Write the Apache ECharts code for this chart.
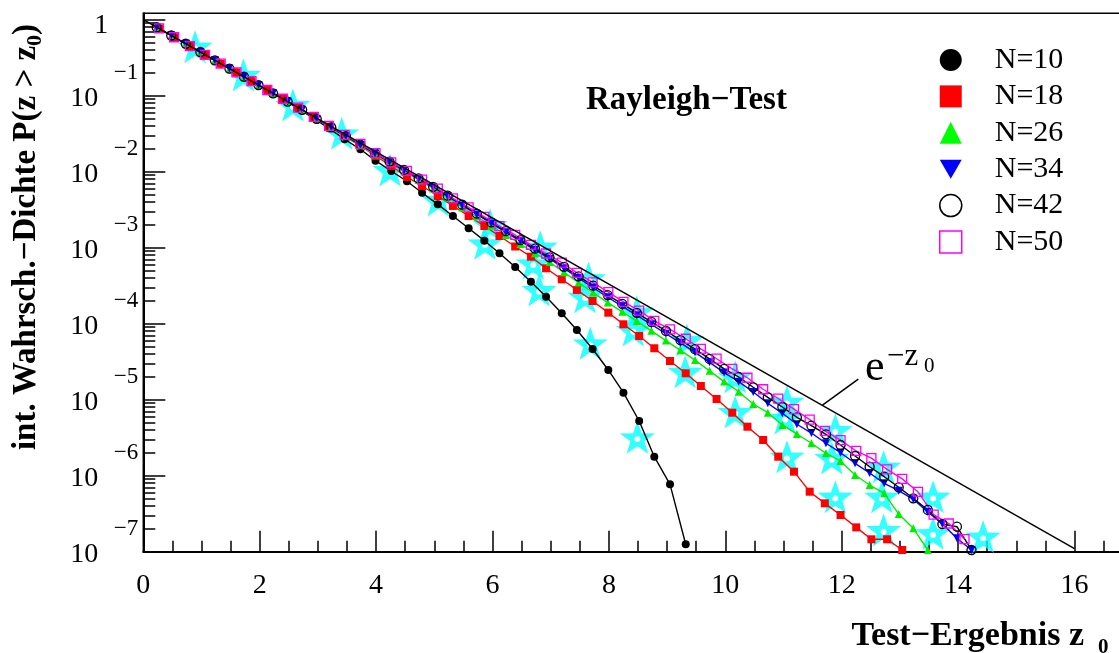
<!DOCTYPE html>
<html><head><meta charset="utf-8">
<script src="https://cdn.jsdelivr.net/npm/echarts@6/dist/echarts.min.js"></script>
<style>html,body{margin:0;padding:0;background:#fff}#c{width:1119px;height:653px}</style>
</head><body><div id="c"></div>
<script>
// ---- data ----
const zGridA = [0.27,0.53,0.80,1.06,1.33,1.60,1.86,2.13,2.40,2.66,2.93,3.19,3.46,3.73,3.99,4.26,4.53,4.79,5.06,5.32,5.59,5.86,6.12,6.39,6.66,6.92,7.19,7.45,7.72,7.99,8.25,8.52,8.78,9.05,9.32,9.58,9.85,10.12,10.38,10.65,10.91,11.18,11.45,11.71,11.98,12.25,12.51,12.78,13.04,13.31,13.58,13.84,14.11];
const zGridB = [0.23,0.48,0.73,0.98,1.23,1.48,1.73,1.98,2.23,2.48,2.73,2.98,3.23,3.48,3.73,3.98,4.23,4.48,4.73,4.98,5.23,5.48,5.73,5.98,6.23,6.48,6.73,6.98,7.23,7.48,7.73,7.98,8.23,8.48,8.73,8.98,9.23,9.48,9.73,9.98,10.23,10.48,10.73,10.98,11.23,11.48,11.73,11.98,12.23,12.48,12.73,12.98,13.23,13.48,13.73,13.98,14.23];

const pN10 = [0.766,0.587,0.450,0.345,0.264,0.2025,0.1552,0.1188,0.0897,0.0677,0.0504,0.0372,0.0267,0.0197,0.01395,0.01021,0.00748,0.00529,0.00372,0.002613,0.00180,0.001237,8.44e-4,5.57e-4,3.57e-4,2.265e-4,1.37e-4,8.26e-5,4.65e-5,2.46e-5,1.236e-5,5.24e-6,1.778e-6,7.70e-7,1.252e-7];
const pN18 = [0.766,0.587,0.450,0.345,0.264,0.2025,0.1552,0.1188,0.0911,0.0698,0.0525,0.0392,0.0294,0.02184,0.01609,0.01189,0.00852,0.00648,0.00479,0.00354,0.002613,0.00193,0.001425,0.001037,7.61e-4,5.36e-4,3.84e-4,2.78e-4,1.99e-4,1.396e-4,9.82e-5,6.89e-5,4.75e-5,3.23e-5,2.225e-5,1.515e-5,1.021e-5,6.74e-6,4.41e-6,2.95e-6,1.778e-6,1.129e-6,6.16e-7,4.33e-7,3.04e-7,2.09e-7,1.456e-7,1.456e-7,1.053e-7];
const pN26 = [0.795,0.619,0.482,0.3753,0.2921,0.2276,0.1773,0.138,0.1075,0.0837,0.065,0.0488,0.03747,0.02864,0.02191,0.0168,0.01297,0.01004,0.00777,0.00601,0.00453,0.00339,0.002564,0.001937,0.001468,0.001115,8.48e-4,6.46e-4,4.74e-4,3.47e-4,2.563e-4,1.895e-4,1.432e-4,1.082e-4,8.05e-5,5.99e-5,4.46e-5,3.32e-5,2.396e-5,1.73e-5,1.274e-5,8.78e-6,6.74e-6,4.65e-6,3.54e-6,2.67e-6,1.97e-6,1.561e-6,1.021e-6,7.54e-7,5.87e-7,3.13e-7,2.03e-7,1.053e-7];
const pN34 = [0.795,0.619,0.482,0.3753,0.2921,0.2276,0.1773,0.138,0.1075,0.0837,0.0652,0.04928,0.03802,0.02925,0.02252,0.01732,0.01341,0.01038,0.00806,0.00624,0.00474,0.00359,0.002732,0.002083,0.001593,0.001215,9.32e-4,7.17e-4,5.34e-4,3.98e-4,2.972e-4,2.226e-4,1.692e-4,1.29e-4,9.78e-5,7.38e-5,5.58e-5,4.2e-5,3.1e-5,2.272e-5,1.725e-5,1.262e-5,8.97e-6,6.62e-6,4.75e-6,3.64e-6,2.67e-6,2.007e-6,1.456e-6,1.085e-6,7.94e-7,6.35e-7,4.89e-7,3.33e-7,2.315e-7,1.5e-7,1.053e-7];
const pN42 = [0.795,0.619,0.482,0.3753,0.2921,0.2276,0.1773,0.138,0.1075,0.0837,0.0652,0.04958,0.03825,0.02943,0.02272,0.01753,0.01357,0.01054,0.00816,0.00633,0.00483,0.00368,0.002807,0.002147,0.001647,0.00126,9.69e-4,7.46e-4,5.6e-4,4.2e-4,3.16e-4,2.379e-4,1.819e-4,1.391e-4,1.058e-4,8.04e-5,6.09e-5,4.62e-5,3.44e-5,2.542e-5,1.989e-5,1.456e-5,1.075e-5,8.01e-6,5.87e-6,4.55e-6,3.5e-6,2.534e-6,1.816e-6,1.313e-6,9.7e-7,7.04e-7,5.04e-7,3.54e-7,2.315e-7,2.133e-7,1.053e-7];
const pN50 = [0.766,0.587,0.450,0.345,0.264,0.2025,0.1552,0.1188,0.0911,0.0698,0.0527,0.0400,0.03046,0.0232,0.01757,0.01327,0.01026,0.00785,0.00598,0.00445,0.0034,0.002543,0.001924,0.00147,0.00109,8.38e-4,6.36e-4,4.67e-4,3.5e-4,2.6e-4,1.94e-4,1.485e-4,1.087e-4,8.43e-5,6.34e-5,4.67e-5,3.46e-5,2.54e-5,1.943e-5,1.372e-5,1.036e-5,7.52e-6,5.47e-6,3.88e-6,2.94e-6,2.115e-6,1.7e-6,1.212e-6,9.09e-7,6.14e-7,3.08e-7,2.35e-7,1.465e-7];

const starZ = [0.89,1.72,2.57,3.41,4.24,5.07,5.96,5.87,6.82,6.70,6.80,7.65,7.59,7.68,8.48,8.42,8.49,9.34,9.31,10.17,10.17,11.06,11.03,11.06,11.89,11.83,11.89,12.72,12.69,12.72,13.57,13.57,14.43];
const starP = [0.441,0.187,0.0754,0.032,0.01053,0.00424,0.00199,0.001142,0.001031,6.23e-4,2.78e-4,3.96e-4,2.27e-4,5.52e-5,1.44e-4,8.26e-5,3.2e-6,6.1e-5,2.34e-5,2.0e-5,6.9e-6,9.4e-6,5.74e-6,1.78e-6,3.99e-6,1.71e-6,5.29e-7,1.31e-6,5.29e-7,1.93e-7,5.29e-7,1.75e-7,1.58e-7];

const expZ = [0, 16];
const expP = [1, 1.1e-7];
const leaderZ = [11.67, 12.285];
const leaderP = [8.5e-6, 1.86e-5];

const seriesNames = ['N=10','N=18','N=26','N=34','N=42','N=50'];
const yDecades = [1e-7,1e-6,1e-5,1e-4,1e-3,1e-2,1e-1,1];
const minorMults = [2,3,4,5,6,7,8,9];

// ---- build ----
const SERIF = '"Liberation Serif","DejaVu Serif",serif';
function pairs(zs, ps) { return ps.map((p, i) => [zs[i], p]); }
const yMinorTicks = [];
yDecades.slice(0, -1).forEach(d => minorMults.forEach(m => yMinorTicks.push(d * m)));

// pointed five-pointed star with a small round hole
const STAR = 'path://M50,0 L61.76,33.82 L97.55,34.55 L69.02,56.18 L79.39,90.45 L50,70 L20.61,90.45 L30.98,56.18 L2.45,34.55 L38.24,33.82 Z M50,42 A8,8 0 1,0 50,58 A8,8 0 1,0 50,42 Z';
const DOWN_TRI = 'path://M0,0 L10,0 L5,8.66 Z';

function lineSeries(name, zs, ps, color, symbol, size, fill, extra) {
  return Object.assign({
    type: 'line', name: name, data: pairs(zs, ps),
    symbol: symbol, symbolSize: size,
    lineStyle: { color: color, width: 1.4 },
    itemStyle: fill ? { color: fill, borderColor: color, borderWidth: 1.3 } : { color: color },
    z: 3, animation: false
  }, extra || {});
}

const option = {
  animation: false,
  backgroundColor: '#fff',
  grid: { left: 143.3, top: 13.3, width: 1047.6, height: 538.4, containLabel: false, outerBoundsMode: 'none',
          show: true, borderColor: '#000', borderWidth: 1.5, backgroundColor: 'transparent' },
  xAxis: {
    type: 'value', min: 0, max: 18, interval: 2,
    axisLine: { show: true, onZero: false, lineStyle: { color: '#000', width: 2 } },
    axisTick: { show: true, inside: true, length: 21, lineStyle: { color: '#000', width: 1.5 } },
    minorTick: { show: true, splitNumber: 4, length: 11, lineStyle: { color: '#000', width: 1.5 } },
    splitLine: { show: false },
    axisLabel: { fontFamily: SERIF, fontSize: 28, color: '#000', margin: 20 }
  },
  yAxis: [{
    type: 'log', logBase: 10, min: 1e-7, max: 1.213, position: 'left',
    axisLine: { show: true, onZero: false, lineStyle: { color: '#000', width: 2 } },
    axisTick: { show: true, inside: true, length: 22, customValues: yDecades, lineStyle: { color: '#000', width: 1.5 } },
    splitLine: { show: false }, minorTick: { show: false },
    axisLabel: {
      customValues: yDecades, margin: 5, color: '#000', fontFamily: SERIF,
      formatter: function (v) {
        const e = Math.round(Math.log10(v));
        if (e === 0) return '{sp| }\n{one|1}{p1| }';
        return '{ex|\u2212' + (-e) + '}\n{ten|10}{p| }\n{bl| }';
      },
      rich: {
        ex: { fontFamily: SERIF, fontSize: 23, lineHeight: 24, color: '#000', align: 'right' },
        ten: { fontFamily: SERIF, fontSize: 28, lineHeight: 28, color: '#000', align: 'right' },
        p: { width: 40, fontSize: 10, align: 'right' },
        bl: { fontSize: 10, lineHeight: 18, align: 'right' },
        one: { fontFamily: SERIF, fontSize: 28, lineHeight: 28, color: '#000', align: 'right' },
        p1: { width: 30, fontSize: 10, align: 'right' },
        sp: { fontSize: 10, lineHeight: 12, align: 'right' }
      }
    }
  }, {
    type: 'log', logBase: 10, min: 1e-7, max: 1.213, position: 'left',
    axisLine: { show: false },
    axisTick: { show: true, inside: true, length: 12, customValues: yMinorTicks, lineStyle: { color: '#000', width: 1.5 } },
    axisLabel: { show: false }, splitLine: { show: false }, minorTick: { show: false }
  }],
  legend: {
    orient: 'vertical', left: 939, top: 45, padding: 0, itemWidth: 22, itemHeight: 22, itemGap: 6.4,
    selectedMode: false,
    textStyle: { fontFamily: SERIF, fontSize: 30, color: '#000', padding: [0, 0, 0, 28] },
    data: [
      { name: seriesNames[0], icon: 'circle', itemStyle: { color: '#000' } },
      { name: seriesNames[1], icon: 'rect', itemStyle: { color: '#ff0000' } },
      { name: seriesNames[2], icon: 'triangle', itemStyle: { color: '#00ff00' } },
      { name: seriesNames[3], icon: DOWN_TRI, itemStyle: { color: '#0000ff' } },
      { name: seriesNames[4], icon: 'circle', itemStyle: { color: '#fff', borderColor: '#000', borderWidth: 1.5 } },
      { name: seriesNames[5], icon: 'rect', itemStyle: { color: '#fff', borderColor: '#ff00ff', borderWidth: 1.5 } }
    ]
  },
  graphic: [
    { type: 'text', x: 26, y: 237, rotation: Math.PI / 2,
      style: { text: '{a|int. Wahrsch.\u2212Dichte P(z > z}{s|0}{a|)}', align: 'center', verticalAlign: 'middle',
        rich: { a: { fontFamily: SERIF, fontWeight: 'bold', fontSize: 33, lineHeight: 40, fill: '#000', verticalAlign: 'middle' },
                s: { fontFamily: SERIF, fontWeight: 'bold', fontSize: 22, lineHeight: 22, fill: '#000', verticalAlign: 'bottom' } } } },
    { type: 'text', x: 1084, y: 636.5,
      style: { text: 'Test\u2212Ergebnis z', fontFamily: SERIF, fontWeight: 'bold', fontSize: 34, fill: '#000', align: 'right', verticalAlign: 'middle' } },
    { type: 'text', x: 1098, y: 647.5,
      style: { text: '0', fontFamily: SERIF, fontWeight: 'bold', fontSize: 21, fill: '#000', align: 'left', verticalAlign: 'middle' } },
    { type: 'text', x: 586, y: 100.6,
      style: { text: 'Rayleigh\u2212Test', fontFamily: SERIF, fontWeight: 'bold', fontSize: 33, fill: '#000', align: 'left', verticalAlign: 'middle' } },
    { type: 'text', x: 865, y: 368.5,
      style: { text: 'e', fontFamily: SERIF, fontSize: 44, fill: '#000', align: 'left', verticalAlign: 'middle' } },
    { type: 'text', x: 887, y: 356.6,
      style: { text: '\u2212z', fontFamily: SERIF, fontSize: 31, fill: '#000', align: 'left', verticalAlign: 'middle' } },
    { type: 'text', x: 924, y: 366.5,
      style: { text: '0', fontFamily: SERIF, fontSize: 21, fill: '#000', align: 'left', verticalAlign: 'middle' } }
  ],
  series: [
    { type: 'scatter', name: 'stars', data: pairs(starZ, starP), symbol: STAR, symbolSize: [35, 33],
      itemStyle: { color: '#00ffff' }, z: 1, silent: true },
    lineSeries(seriesNames[0], zGridA, pN10, '#000000', 'circle', 8, null),
    lineSeries(seriesNames[1], zGridA, pN18, '#ff0000', 'rect', 8, null),
    lineSeries(seriesNames[2], zGridB, pN26, '#00ee00', 'triangle', 8, null),
    lineSeries(seriesNames[3], zGridB, pN34, '#0000ff', 'triangle', 8, null, { symbolRotate: 180 }),
    lineSeries(seriesNames[4], zGridB, pN42, '#000000', 'circle', 9, 'rgba(255,255,255,0)'),
    lineSeries(seriesNames[5], zGridA, pN50, '#ff00ff', 'rect', 9, 'rgba(255,255,255,0)'),
    { type: 'line', name: 'exp', data: pairs(expZ, expP), symbol: 'none',
      lineStyle: { color: '#000', width: 1.5 }, z: 4, silent: true,
      markLine: { silent: true, symbol: ['none', 'none'], label: { show: false },
        lineStyle: { color: '#000', width: 1.5, type: 'solid' },
        data: [[{ coord: [leaderZ[0], leaderP[0]] }, { coord: [leaderZ[1], leaderP[1]] }]] } }
  ]
};
const chart = echarts.init(document.getElementById('c'));
chart.setOption(option);
</script></body></html>
